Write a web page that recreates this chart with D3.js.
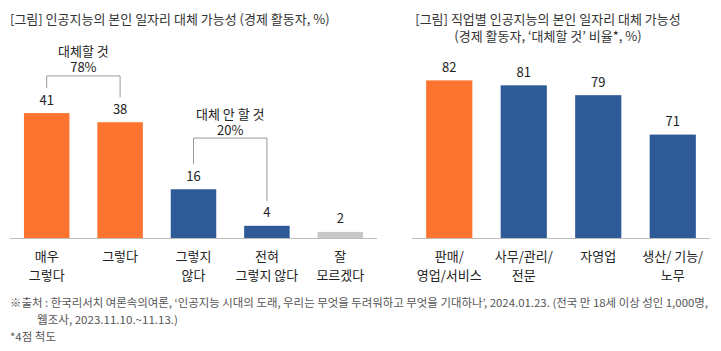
<!DOCTYPE html>
<html>
<head>
<meta charset="utf-8">
<script src="https://cdn.jsdelivr.net/npm/d3@7"></script>
<style>
  body { margin: 0; background: #fff; }
  svg { display: block; font-family: "Noto Sans CJK KR", "Noto Sans", sans-serif; }
</style>
</head>
<body>
<div id="chart"></div>
<script>
// left chart: answer distribution
const leftCats = [['매우', '그렇다'], ['그렇다'], ['그렇지', '않다'], ['전혀', '그렇지 않다'], ['잘', '모르겠다']];
const leftValues = [41, 38, 16, 4, 2];
const leftColors = ['#fd7430', '#fd7430', '#2e5a97', '#2e5a97', '#c8c8c8'];
const leftGroups = [
  { from: 0, to: 1, label: '대체할 것', total: '78%' },
  { from: 2, to: 3, label: '대체 안 할 것', total: '20%' }
];

// right chart: share "will replace" by occupation
const rightCats = [['판매/', '영업/서비스'], ['사무/관리/', '전문'], ['자영업'], ['생산/ 기능/', '노무']];
const rightValues = [82, 81, 79, 71];
const rightColors = ['#fd7430', '#2e5a97', '#2e5a97', '#2e5a97'];

const leftTitle = ['[그림] 인공지능의 본인 일자리 대체 가능성 (경제 활동자, %)'];
const rightTitle = ['[그림] 직업별 인공지능의 본인 일자리 대체 가능성', '(경제 활동자, ‘대체할 것’ 비율*, %)'];
const notes = [
  '※출처 : 한국리서치 여론속의여론, ‘인공지능 시대의 도래, 우리는 무엇을 두려워하고 무엇을 기대하나’, 2024.01.23. (전국 만 18세 이상 성인 1,000명,',
  '웹조사, 2023.11.10.~11.13.)',
  '*4점 척도'
];

const W = 721, H = 351;
const baseY = 238;
const svg = d3.select('#chart').append('svg').attr('width', W).attr('height', H);

function drawPanel(cats, values, colors, xRange, yScale) {
  const idx = values.map((_, i) => i);
  const x = d3.scaleBand().domain(idx).range(xRange).paddingInner(0.38).paddingOuter(0.19);
  const g = svg.append('g');

  g.selectAll('rect').data(idx).enter().append('rect')
    .attr('x', i => x(i))
    .attr('y', i => yScale(values[i]))
    .attr('width', x.bandwidth())
    .attr('height', i => baseY - yScale(values[i]))
    .attr('fill', i => colors[i]);

  g.append('line')
    .attr('x1', xRange[0]).attr('x2', xRange[1])
    .attr('y1', baseY + 0.5).attr('y2', baseY + 0.5)
    .attr('stroke', '#bdbdbd').attr('stroke-width', 1.2);

  g.selectAll('.val').data(idx).enter().append('text')
    .attr('x', i => x(i) + x.bandwidth() / 2)
    .attr('y', i => yScale(values[i]) - 14)
    .attr('dominant-baseline', 'central')
    .attr('text-anchor', 'middle')
    .attr('font-size', 13).attr('fill', '#222')
    .text(i => values[i]);

  idx.forEach(i => {
    cats[i].forEach((line, k) => {
      g.append('text')
        .attr('x', x(i) + x.bandwidth() / 2)
        .attr('y', 255 + k * 19)
        .attr('dominant-baseline', 'central')
        .attr('text-anchor', 'middle')
        .attr('font-size', 13).attr('fill', '#222')
        .text(line);
    });
  });
  return x;
}

// left panel
const yL = d3.scaleLinear().domain([0, 65]).range([baseY, 40]);
const xL = drawPanel(leftCats, leftValues, leftColors, [10, 377], yL);

const bracketLevels = [53.2, 32.8];
leftGroups.forEach((grp, j) => {
  const x1 = xL(grp.from) + xL.bandwidth() / 2;
  const x2 = xL(grp.to) + xL.bandwidth() / 2;
  const top = yL(bracketLevels[j]);
  const path = d3.path();
  path.moveTo(x1, yL(leftValues[grp.from]) - 25);
  path.lineTo(x1, top);
  path.lineTo(x2, top);
  path.lineTo(x2, yL(leftValues[grp.to]) - 25);
  svg.append('path').attr('d', path.toString())
    .attr('fill', 'none').attr('stroke', '#9a9a9a').attr('stroke-width', 1);
  const cx = (x1 + x2) / 2;
  svg.append('text').attr('x', cx).attr('y', top - 25)
    .attr('dominant-baseline', 'central').attr('text-anchor', 'middle')
    .attr('font-size', 13).attr('fill', '#222').text(grp.label);
  svg.append('text').attr('x', cx).attr('y', top - 9)
    .attr('dominant-baseline', 'central').attr('text-anchor', 'middle')
    .attr('font-size', 13).attr('fill', '#222').text(grp.total);
});

// right panel
const yR = d3.scaleLinear().domain([50, 90]).range([baseY, 41]);
drawPanel(rightCats, rightValues, rightColors, [412, 710], yR);

// titles
svg.append('text').attr('x', 10).attr('y', 18)
  .attr('dominant-baseline', 'central')
  .attr('font-size', 13).attr('fill', '#333').text(leftTitle[0]);
rightTitle.forEach((t, k) => {
  svg.append('text').attr('x', 548).attr('y', 18 + k * 17)
    .attr('dominant-baseline', 'central').attr('text-anchor', 'middle')
    .attr('font-size', 13).attr('fill', '#333').text(t);
});

// footnotes
svg.append('text').attr('x', 10).attr('y', 302)
  .attr('dominant-baseline', 'central')
  .attr('font-size', 11).attr('fill', '#555')
  .attr('textLength', 698).attr('lengthAdjust', 'spacingAndGlyphs')
  .text(notes[0]);
svg.append('text').attr('x', 37).attr('y', 319)
  .attr('dominant-baseline', 'central')
  .attr('font-size', 11).attr('fill', '#555')
  .attr('textLength', 141).attr('lengthAdjust', 'spacingAndGlyphs')
  .text(notes[1]);
svg.append('text').attr('x', 10).attr('y', 336)
  .attr('dominant-baseline', 'central')
  .attr('font-size', 11).attr('fill', '#555')
  .attr('textLength', 46).attr('lengthAdjust', 'spacingAndGlyphs')
  .text(notes[2]);
</script>
</body>
</html>
